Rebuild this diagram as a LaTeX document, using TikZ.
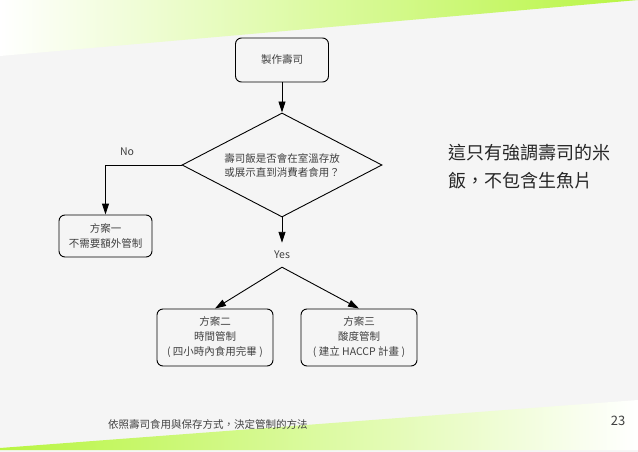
\documentclass[tikz,border=0pt]{standalone}
\usepackage{fontspec}
\setmainfont{Noto Sans CJK TC}
\usetikzlibrary{shapes.geometric, arrows.meta}
\definecolor{pagegray}{HTML}{F5F5F5}
\definecolor{barlime}{HTML}{B8F542}
\definecolor{barpale}{HTML}{E6FDBE}
\definecolor{textgray}{HTML}{404040}
\definecolor{notegray}{HTML}{262626}

\begin{document}
\begin{tikzpicture}[x=1pt, y=-1pt,
    box/.style={draw, line width=0.9pt, rounded corners=6pt, align=center, text=textgray,
        font=\fontsize{10.5}{15}\selectfont, inner sep=0pt},
    decision/.style={diamond, draw, line width=0.9pt, aspect=1.92, inner sep=0pt,
        minimum width=200pt, minimum height=104pt, align=center, text=textgray,
        font=\fontsize{10.5}{14}\selectfont},
    arr/.style={-{Triangle[length=11pt,width=7pt]}, line width=0.9pt},
    lbl/.style={text=textgray, font=\fontsize{10.5}{12}\selectfont, inner sep=0pt}]
    % Page background with the green bars at top and bottom
    \fill[pagegray] (0,0) rectangle (638,452);
    \shade[left color=white, middle color=barpale, right color=barlime] (0,0) -- (638,0) -- (0,56) -- cycle;
    \shade[left color=barlime, middle color=barpale, right color=white] (0,448) -- (638,400) -- (638,450) -- (0,450) -- cycle;
    \useasboundingbox (0,0) rectangle (638,452);

    % Start box and the question
    \node[box, minimum width=93pt, minimum height=44pt] (make) at (282,60) {製作壽司};
    \node[decision] (dec) at (282,165) {壽司飯是否會在室溫存放\\或展示直到消費者食用？};

    % No branch (left)
    \node[lbl] (no) at (127,152) {No};
    \node[box, minimum width=93pt, minimum height=42pt] (opt1) at (105.5,236) {方案一\\不需要額外管制};

    % Yes branch splits in two
    \node[lbl, minimum height=24pt] (yes) at (282,255) {Yes};
    \node[box, minimum width=116pt, minimum height=57pt] (opt2) at (215,337.5) {方案二\\時間管制\\( 四小時內食用完畢 )};
    \node[box, minimum width=116pt, minimum height=57pt] (opt3) at (359,337.5) {方案三\\酸度管制\\( 建立 HACCP 計畫 )};

    % Connectors
    \draw[arr] (make) -- (dec);
    \draw[arr] (dec.west) -| (opt1.north);
    \draw[arr] (dec.south) -- (yes.north);
    \draw[arr] (yes.south) -- (opt2.north);
    \draw[arr] (yes.south) -- (opt3.north);

    % Side note, footer and page number
    \node[anchor=base west, align=left, inner sep=0pt, text=notegray,
        font=\fontsize{18}{28}\selectfont] (note) at (448,187) {這只有強調壽司的米\\飯，不包含生魚片};
    \node[lbl, anchor=base west] (foot) at (108,428) {依照壽司食用與保存方式，決定管制的方法};
    \node[lbl, font=\fontsize{13}{14}\selectfont] (page) at (618,421) {23};
\end{tikzpicture}
\end{document}
